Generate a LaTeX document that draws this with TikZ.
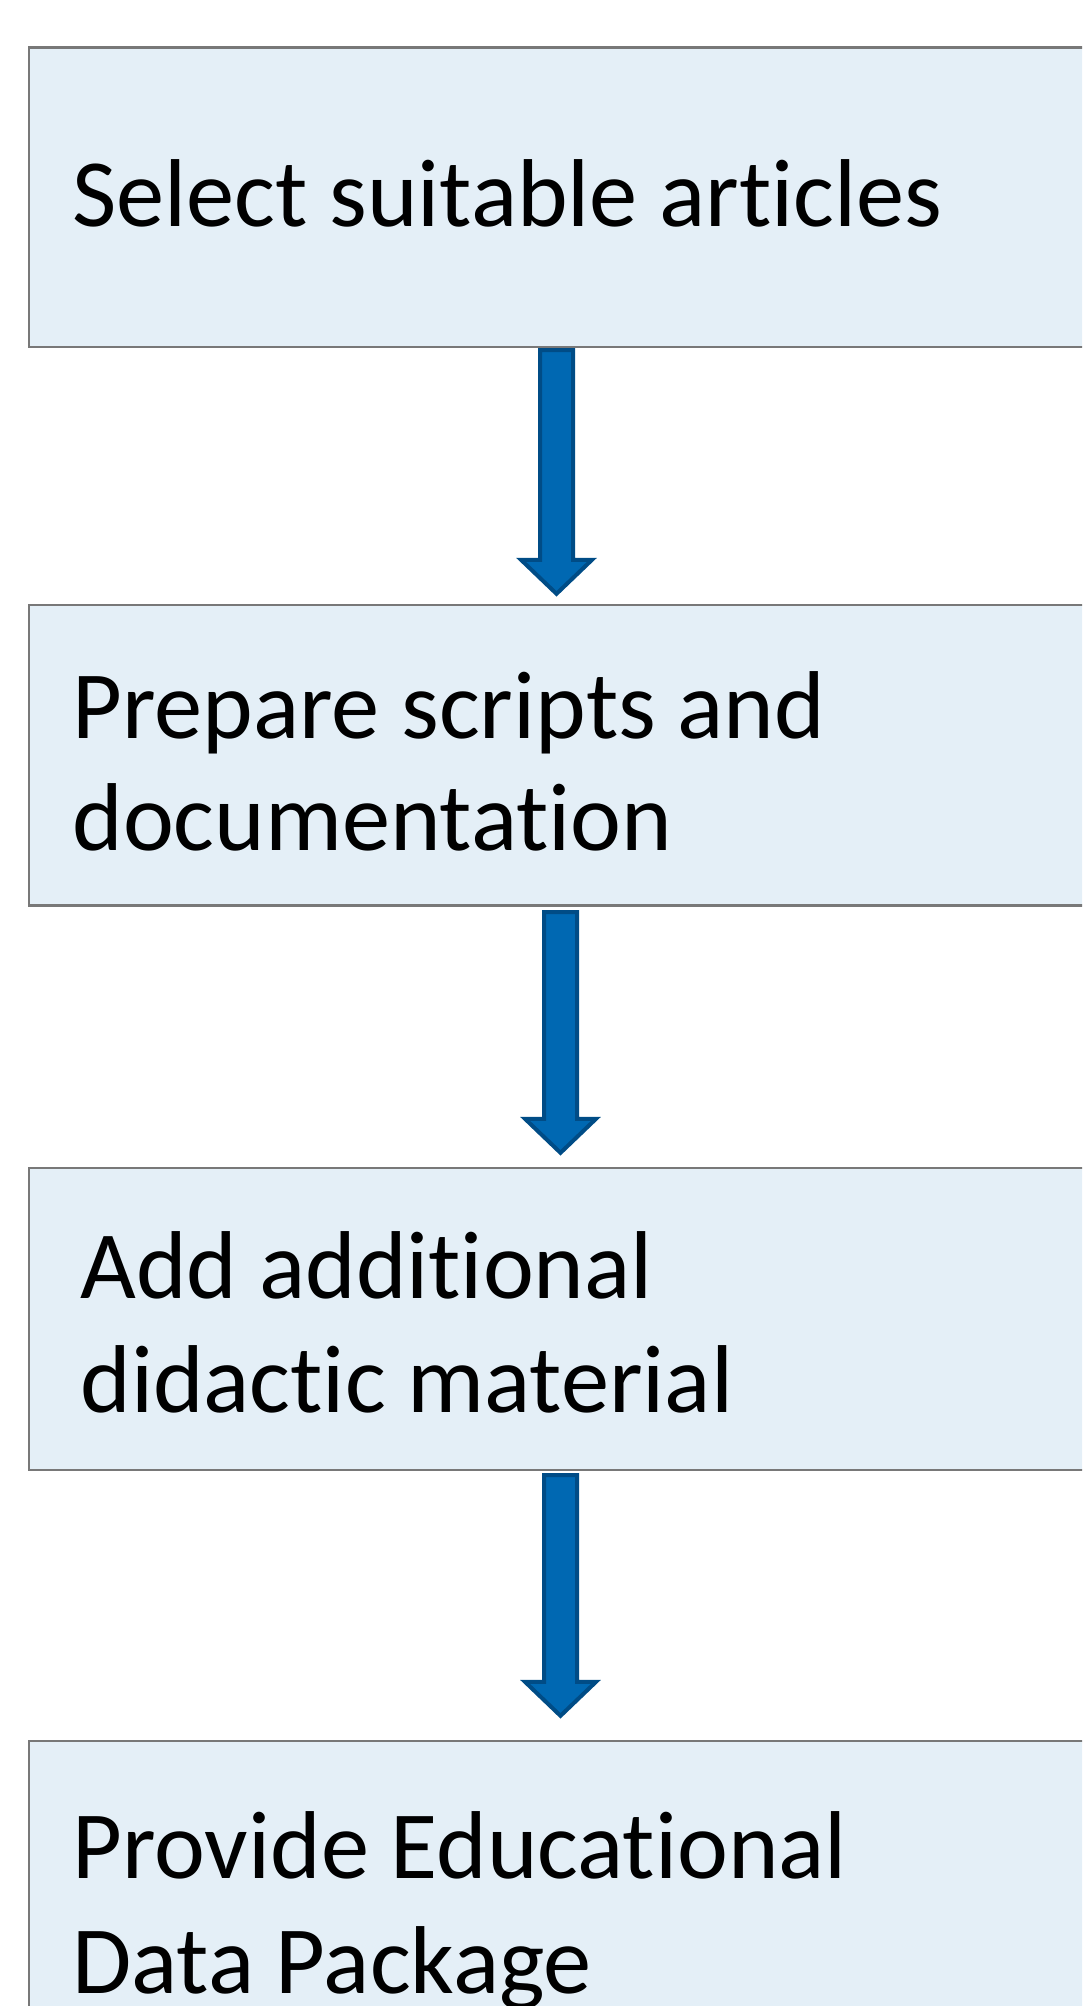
\documentclass[tikz,border=0pt]{standalone}
\usepackage{fontspec}
\setmainfont[RawFeature={-liga}]{Carlito}
\usetikzlibrary{calc,fit}
\definecolor{boxfill}{RGB}{228,239,247}
\definecolor{boxline}{RGB}{120,120,120}
\definecolor{arrfill}{RGB}{0,104,178}
\definecolor{arrline}{RGB}{0,76,134}
\tikzset{
  stepbox/.style={draw=boxline, fill=boxfill, line width=1.2pt, inner sep=0pt, rectangle},
  lbl/.style={anchor=base west, inner sep=0pt, font=\fontsize{48.2}{57}\selectfont},
  blockarr/.style={draw=arrline, fill=arrfill, line width=2pt, line join=miter}
}
\newcommand\blockarrow[2]{%
  \draw[blockarr] ($(#1)+(-16.5,2)$) -- ($(#1)+(16.5,2)$) -- ($(#2)+(16.5,-36)$)
    -- ($(#2)+(35.5,-36)$) -- ($(#2)+(0,-2)$) -- ($(#2)+(-35.5,-36)$)
    -- ($(#2)+(-16.5,-36)$) -- cycle;}
\begin{document}
\begin{tikzpicture}[x=0.5pt,y=-0.5pt]
\useasboundingbox (0,0) rectangle (1082,2006);
\clip (0,0) rectangle (1082,2006);
\node[stepbox, fit={(29,47.5) (1120,347)}] (b1) {};
\node[stepbox, fit={(29,605) (1120,905.5)}] (b2) {};
\node[stepbox, fit={(29,1168) (1120,1470)}] (b3) {};
\node[stepbox, fit={(29,1741) (1120,2060)}] (b4) {};
\node[lbl] (t1) at (72,227) {Select suitable articles};
\node[lbl] (t2a) at (72,738) {Prepare scripts and};
\node[lbl] (t2b) at (72,850) {documentation};
\node[lbl] (t3a) at (80,1298) {Add additional};
\node[lbl] (t3b) at (80,1412) {didactic material};
\node[lbl] (t4a) at (72,1878) {Provide Educational};
\node[lbl] (t4b) at (72,1993) {Data Package};
\coordinate (x1) at (556.5,0);
\coordinate (x2) at (560.5,0);
\coordinate (s1) at ($(x1 |- b1.south)+(0,0)$);
\coordinate (e1) at ($(x1 |- b2.north)+(0,-8)$);
\coordinate (s2) at ($(x2 |- b2.south)+(0,3.5)$);
\coordinate (e2) at ($(x2 |- b3.north)+(0,-12)$);
\coordinate (s3) at ($(x2 |- b3.south)+(0,2)$);
\coordinate (e3) at ($(x2 |- b4.north)+(0,-22)$);
\blockarrow{s1}{e1}
\blockarrow{s2}{e2}
\blockarrow{s3}{e3}
\end{tikzpicture}
\end{document}
